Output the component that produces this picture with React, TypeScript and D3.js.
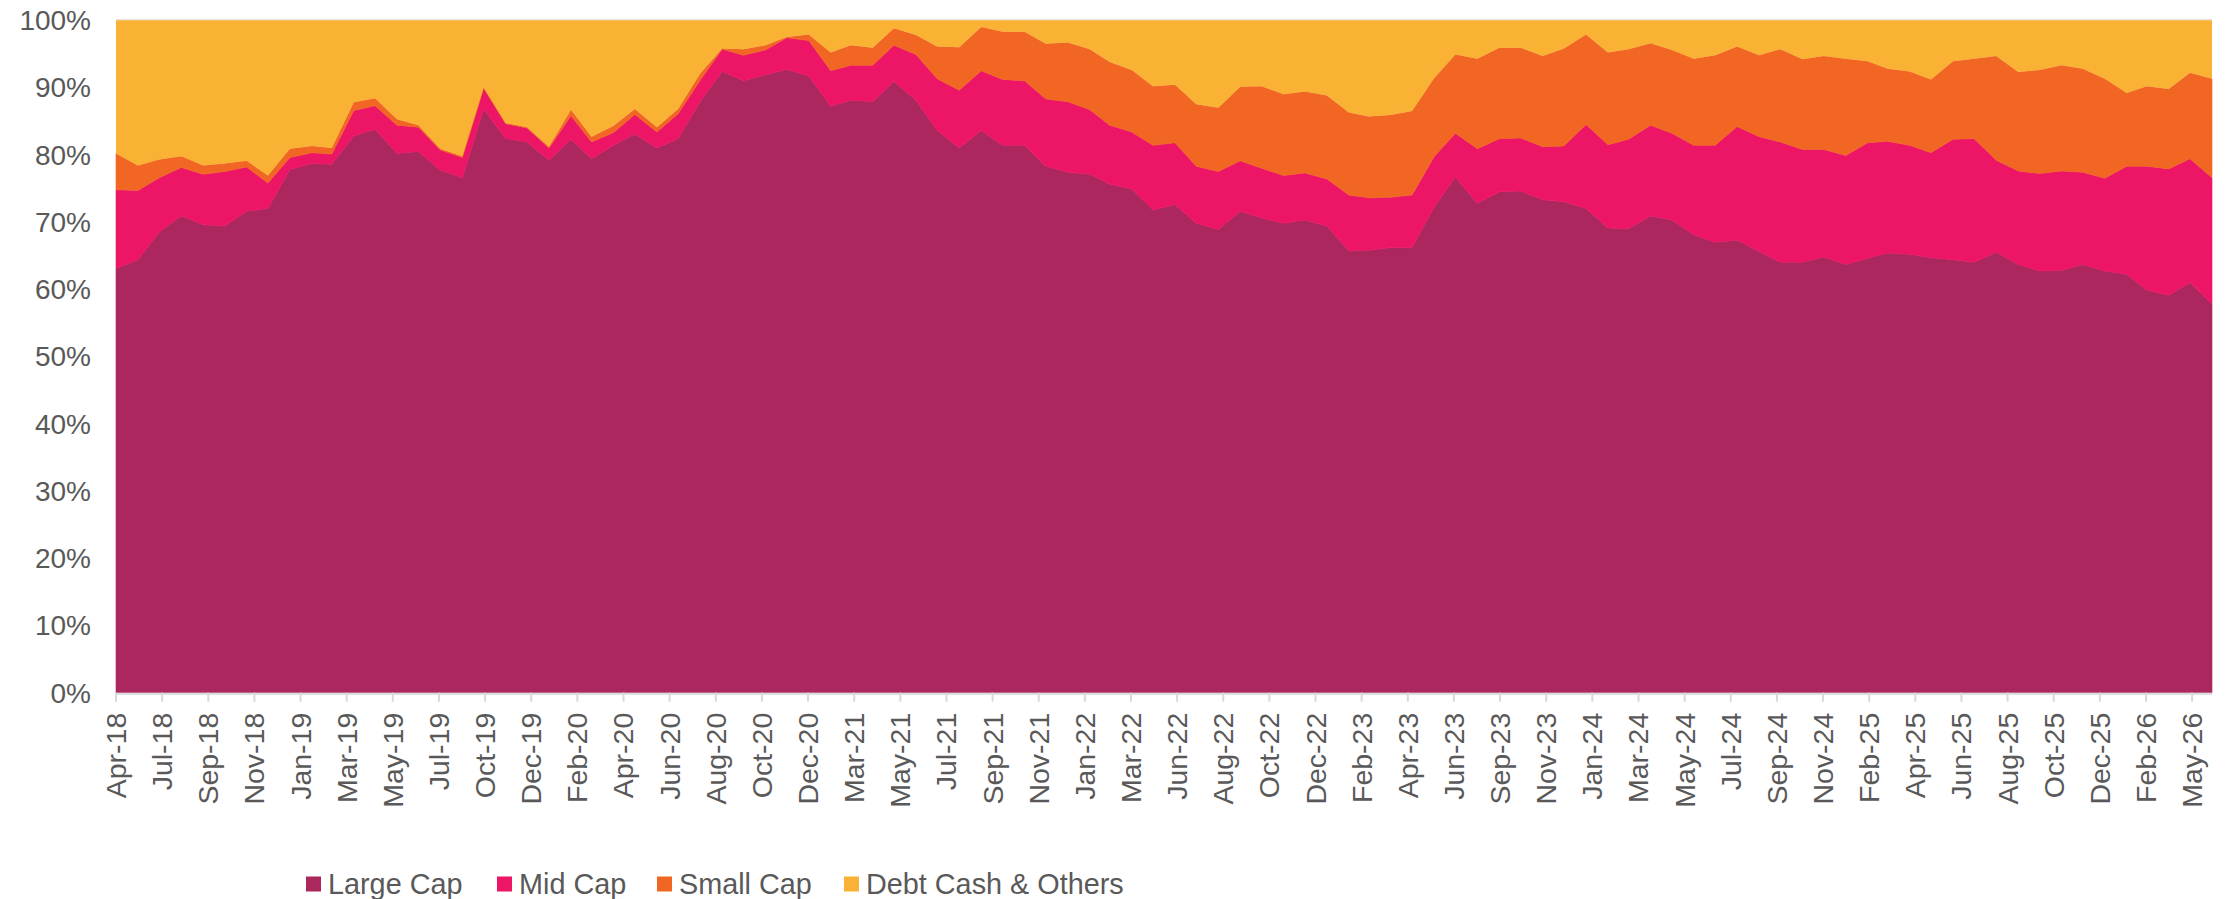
import React from 'react';
import * as d3 from 'd3';

// monthly month-end allocations, Apr-18 .. May-26 (%)
const firstMonth = new Date(2018, 3, 1);
const lastMonth = new Date(2026, 4, 1);

const largeCap = [
    63.1, 64.4, 68.5, 70.9, 69.6, 69.4, 71.6, 72.0, 77.8, 78.7, 78.6, 82.8, 83.8, 80.2, 80.5, 77.7, 76.6, 86.8, 82.4, 81.9,
    79.2, 82.3, 79.4, 81.4, 83.1, 81.0, 82.4, 87.9, 92.4, 91.0, 91.9, 92.7, 91.7, 87.2, 88.1, 87.9, 90.9, 88.1, 83.6, 81.0,
    83.6, 81.4, 81.4, 78.3, 77.4, 77.1, 75.6, 74.9, 71.8, 72.6, 69.8, 68.9, 71.6, 70.6, 69.8, 70.3, 69.4, 65.7, 65.8, 66.2,
    66.2, 72.2, 76.7, 72.8, 74.5, 74.6, 73.3, 73.0, 72.0, 69.1, 69.0, 70.9, 70.3, 68.1, 67.0, 67.3, 65.6, 64.0, 64.0, 64.8,
    63.7, 64.6, 65.4, 65.2, 64.7, 64.4, 64.0, 65.5, 63.7, 62.7, 62.8, 63.7, 62.7, 62.2, 59.9, 59.1, 61.0, 57.8
];
const midCap = [
    11.7, 10.3, 8.1, 7.2, 7.5, 8.1, 6.6, 3.8, 1.8, 1.6, 1.5, 3.8, 3.5, 4.2, 3.6, 3.0, 3.0, 3.1, 2.2, 2.1,
    1.8, 3.5, 2.5, 1.9, 2.9, 2.4, 3.7, 3.2, 3.3, 3.8, 3.7, 4.7, 5.3, 5.3, 5.2, 5.4, 5.4, 6.8, 7.7, 8.6,
    8.9, 9.8, 9.6, 10.0, 10.5, 9.6, 8.8, 8.5, 9.6, 9.2, 8.5, 8.6, 7.5, 7.4, 7.1, 7.0, 7.0, 8.3, 7.8, 7.5,
    7.8, 7.5, 6.5, 8.1, 7.9, 7.9, 7.9, 8.3, 12.5, 12.4, 13.3, 13.5, 12.9, 13.3, 14.4, 16.9, 17.1, 17.9, 16.8, 16.0,
    16.2, 17.2, 16.6, 16.2, 15.6, 17.9, 18.4, 13.7, 13.9, 14.5, 14.8, 13.7, 13.8, 16.1, 18.4, 18.8, 18.4, 18.8
];
const smallCap = [
    5.4, 3.7, 2.7, 1.7, 1.3, 1.2, 0.9, 1.1, 1.3, 1.0, 0.9, 1.2, 1.1, 0.9, 0.3, 0.2, 0.2, 0.1, 0.1, 0.1,
    0.2, 0.9, 0.8, 1.0, 0.8, 0.7, 0.7, 1.0, 0.1, 0.9, 0.7, 0.1, 0.9, 2.7, 3.0, 2.6, 2.5, 2.9, 4.8, 6.4,
    6.5, 7.1, 7.3, 8.2, 8.8, 9.0, 9.4, 9.2, 8.8, 8.6, 9.2, 9.5, 11.0, 12.2, 12.1, 12.1, 12.4, 12.3, 12.1, 12.2,
    12.5, 11.7, 11.7, 13.4, 13.5, 13.4, 13.5, 14.5, 13.4, 13.7, 13.4, 12.2, 12.4, 12.9, 13.4, 11.9, 12.1, 13.8, 13.4, 13.9,
    14.4, 12.1, 10.8, 11.0, 10.9, 11.6, 11.9, 15.5, 14.7, 15.4, 15.7, 15.4, 14.8, 10.9, 11.9, 11.9, 12.8, 14.7
];
const debtCash = [
    19.8, 21.6, 20.7, 20.2, 21.6, 21.3, 20.9, 23.1, 19.1, 18.7, 19.0, 12.2, 11.6, 14.7, 15.6, 19.1, 20.2, 10.0, 15.3, 15.9,
    18.8, 13.3, 17.3, 15.7, 13.2, 15.9, 13.2, 7.9, 4.2, 4.3, 3.7, 2.5, 2.1, 4.8, 3.7, 4.1, 1.2, 2.2, 3.9, 4.0,
    1.0, 1.7, 1.7, 3.5, 3.3, 4.3, 6.2, 7.4, 9.8, 9.6, 12.5, 13.0, 9.9, 9.8, 11.0, 10.6, 11.2, 13.7, 14.3, 14.1,
    13.5, 8.6, 5.1, 5.7, 4.1, 4.1, 5.3, 4.2, 2.1, 4.8, 4.3, 3.4, 4.4, 5.7, 5.2, 3.9, 5.2, 4.3, 5.8, 5.3,
    5.7, 6.1, 7.2, 7.6, 8.8, 6.1, 5.7, 5.3, 7.7, 7.4, 6.7, 7.2, 8.7, 10.8, 9.8, 10.2, 7.8, 8.7
];

const seriesKeys = ['large', 'mid', 'small', 'debt'];
const seriesNames = ['Large Cap', 'Mid Cap', 'Small Cap', 'Debt Cash & Others'];
const seriesColors = ['#ad275f', '#ed1566', '#f26624', '#f9b234'];
const yTickValues = [0, 10, 20, 30, 40, 50, 60, 70, 80, 90, 100];
const tickStepDays = 65;
const tickCount = 46;

const W = 2226, H = 899;
const margin = {left: 116, right: 14, top: 20.3, bottom: 206.3};
const textColor = '#595959';
const axisColor = '#d9d9d9';
const font = '"Liberation Sans", Arial, sans-serif';

const App = () => {
    let months = d3.timeMonth.range(firstMonth, d3.timeMonth.offset(lastMonth, 1));
    let dates = months.map(m => d3.timeDay.offset(d3.timeMonth.offset(m, 1), -1));
    let rows = dates.map((date, i) => ({
        date, large: largeCap[i], mid: midCap[i], small: smallCap[i], debt: debtCash[i]
    }));

    let plotRight = W - margin.right;
    let plotBottom = H - margin.bottom;
    let x = d3.scaleTime().domain([dates[0], dates[dates.length - 1]]).range([margin.left, plotRight]);
    let y = d3.scaleLinear().domain([0, 100]).range([plotBottom, margin.top]).clamp(true);

    let stacked = d3.stack().keys(seriesKeys)(rows as any);
    let area = d3.area<any>()
        .x(d => x(d.data.date))
        .y0(d => y(d[0]))
        .y1(d => y(d[1]));

    let xTicks = d3.range(tickCount).map(k => d3.timeDay.offset(dates[0], tickStepDays * k));
    let fmt = d3.timeFormat('%b-%y');

    // legend: square, gap, label
    let legendX = [306, 497, 657, 844];
    let legendY = 884;

    return (
        <div>
            <style>{'body{margin:0}'}</style>
            <svg width={W} height={H} style={{display: 'block', fontFamily: font}}>
                <rect x="0" y="0" width={W} height={H} fill="#ffffff"/>

                <line x1={margin.left} x2={plotRight} y1={y(100) - 0.5} y2={y(100) - 0.5} stroke={axisColor} strokeWidth="1.2"/>

                <g className="areas">
                    {stacked.map((s, i) =>
                        <path key={s.key} d={area(s as any) || ''} fill={seriesColors[i]}
                              stroke={i < 3 ? seriesColors[i] : 'none'} strokeWidth="0.6" strokeLinejoin="round"/>
                    )}
                </g>

                <g className="y-axis">
                    {yTickValues.map(t =>
                        <text key={t} x={91} y={y(t)} dy="0.35em" textAnchor="end" fontSize="28" fill={textColor}>{t}%</text>
                    )}
                </g>

                <g className="x-axis">
                    <line x1={margin.left} x2={plotRight} y1={plotBottom + 1} y2={plotBottom + 1} stroke={axisColor} strokeWidth="2"/>
                    {xTicks.map((t, i) => <g key={i} transform={`translate(${x(t)},${plotBottom})`}>
                        <line x1="0" x2="0" y1="0" y2="9" stroke={axisColor} strokeWidth="2"/>
                        <text transform="translate(0,20) rotate(-90)" dy="0.35em" textAnchor="end"
                              fontSize="28.5" fill={textColor}>{fmt(t)}</text>
                    </g>)}
                </g>

                <g className="legend">
                    {seriesNames.map((name, i) => <g key={name} transform={`translate(${legendX[i]},${legendY})`}>
                        <rect x="0" y="-7.5" width="15" height="15" fill={seriesColors[i]}/>
                        <text x="22" y="0" dy="0.35em" fontSize="28.8" fill={textColor}>{name}</text>
                    </g>)}
                </g>
            </svg>
        </div>
    );
};

export default App;
